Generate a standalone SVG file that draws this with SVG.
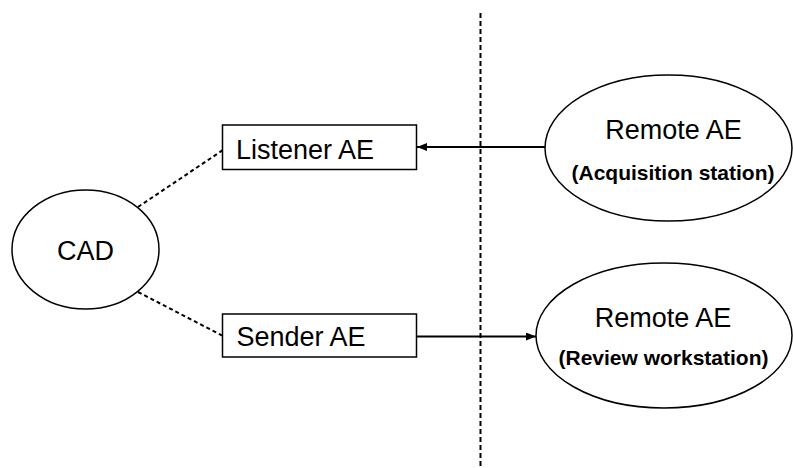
<svg xmlns="http://www.w3.org/2000/svg" width="793" height="468" viewBox="0 0 793 468">
<style>
.shape{fill:#fff;stroke:#000;stroke-width:1.5}
.t{font-family:"Liberation Sans",Arial,sans-serif;fill:#000;text-anchor:middle}
.n{font-size:27px}
.b{font-size:21px;font-weight:bold}
.dash{stroke:#000;stroke-width:2;stroke-dasharray:4,3;fill:none}
.arr{stroke:#000;stroke-width:2;fill:none;marker-end:url(#ah)}
</style>
<defs>
<marker id="ah" viewBox="0 0 10 8" refX="10" refY="4" markerWidth="10" markerHeight="8" markerUnits="userSpaceOnUse" orient="auto">
<path d="M0,0 L10,4 L0,8 Z" fill="#000"/>
</marker>
</defs>
<g id="connectors">
<line class="dash" x1="480.5" y1="13" x2="480.5" y2="466" style="stroke-dasharray:5,3"/>
<line class="dash" x1="138" y1="207" x2="223" y2="150"/>
<line class="dash" x1="138" y1="292" x2="223" y2="336"/>
<line class="arr" x1="545" y1="147" x2="417" y2="147"/>
<line class="arr" x1="417" y1="336.5" x2="536" y2="336.5"/>
</g>
<g id="cad">
<ellipse class="shape" cx="85.5" cy="249.5" rx="73.5" ry="59.5"/>
<text class="t n" x="85.5" y="260">CAD</text>
</g>
<g id="listener">
<rect class="shape" x="222.5" y="125" width="194" height="44.5"/>
<text class="t n" x="305" y="158.5">Listener AE</text>
</g>
<g id="sender">
<rect class="shape" x="222.5" y="314" width="194" height="43"/>
<text class="t n" x="301" y="345.5">Sender AE</text>
</g>
<g id="remote-acq">
<ellipse class="shape" cx="668.5" cy="148" rx="123.5" ry="73"/>
<text class="t n" x="673.5" y="138.5">Remote AE</text>
<text class="t b" x="673" y="180">(Acquisition station)</text>
</g>
<g id="remote-rev">
<ellipse class="shape" cx="664" cy="335.5" rx="128" ry="72.5"/>
<text class="t n" x="663" y="327">Remote AE</text>
<text class="t b" x="663.5" y="365">(Review workstation)</text>
</g>
</svg>
